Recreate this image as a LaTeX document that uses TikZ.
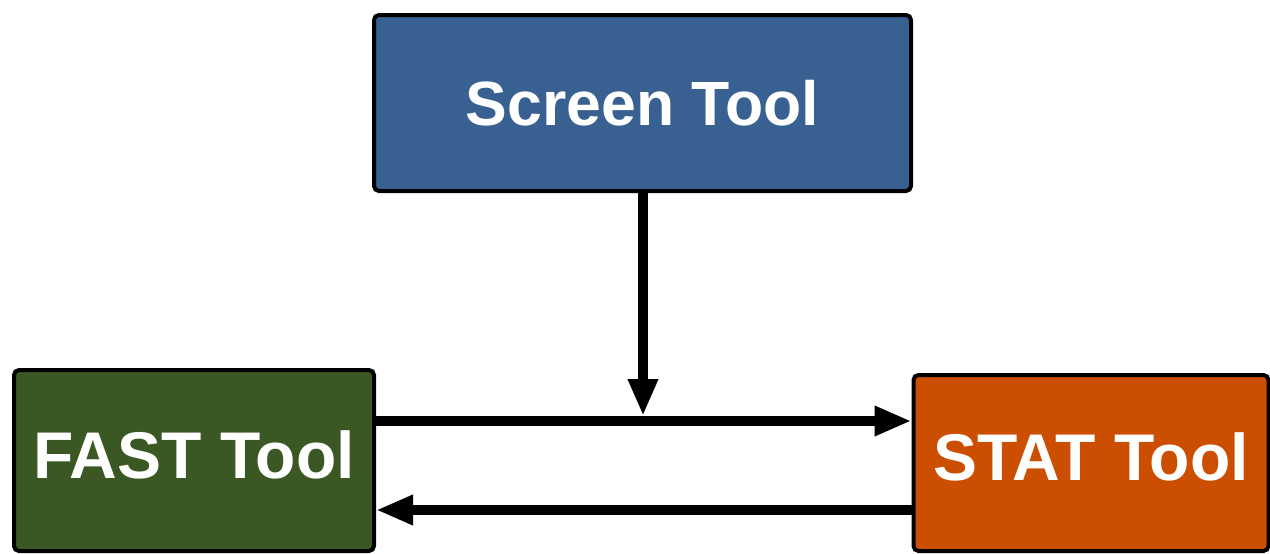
\documentclass[tikz,border=0pt]{standalone}
\usepackage{fontspec}
\setmainfont{Liberation Sans}
\usetikzlibrary{arrows.meta}
\definecolor{toolblue}{HTML}{386191}
\definecolor{toolgreen}{HTML}{3B5724}
\definecolor{toolorange}{HTML}{CC4E00}
\begin{document}
\begin{tikzpicture}[x=1pt,y=-1pt,
  toolbox/.style={draw=black,line width=4pt,rounded corners=5pt,
    text=white,font=\bfseries\fontsize{66}{78}\selectfont,inner sep=0pt},
  flow/.style={line width=10pt,-{Triangle[length=37pt,width=28pt]}}]
  \useasboundingbox (0,0) rectangle (1270,554);
  % tool boxes
  \node[toolbox,fill=toolblue,minimum width=537pt,minimum height=176pt,
        font=\bfseries\fontsize{62.5}{74}\selectfont] (screen) at (642.5,103) {Screen Tool};
  \node[toolbox,fill=toolgreen,minimum width=360pt,minimum height=181pt,
        text depth=12pt] (fast) at (194,460.5) {FAST Tool};
  \node[toolbox,fill=toolorange,minimum width=355pt,minimum height=176pt,
        text depth=12pt] (stat) at (1091,463) {STAT Tool};
  % junction points of the connectors
  \coordinate (drop) at (643,416);
  \coordinate (upper) at (643,421);
  \coordinate (lower) at (643,510);
  % connectors
  \draw[flow] (screen.south -| drop) -- (drop);
  \draw[flow] (fast.east |- upper) -- (stat.west |- upper);
  \draw[flow] (stat.west |- lower) -- (fast.east |- lower);
\end{tikzpicture}
\end{document}
